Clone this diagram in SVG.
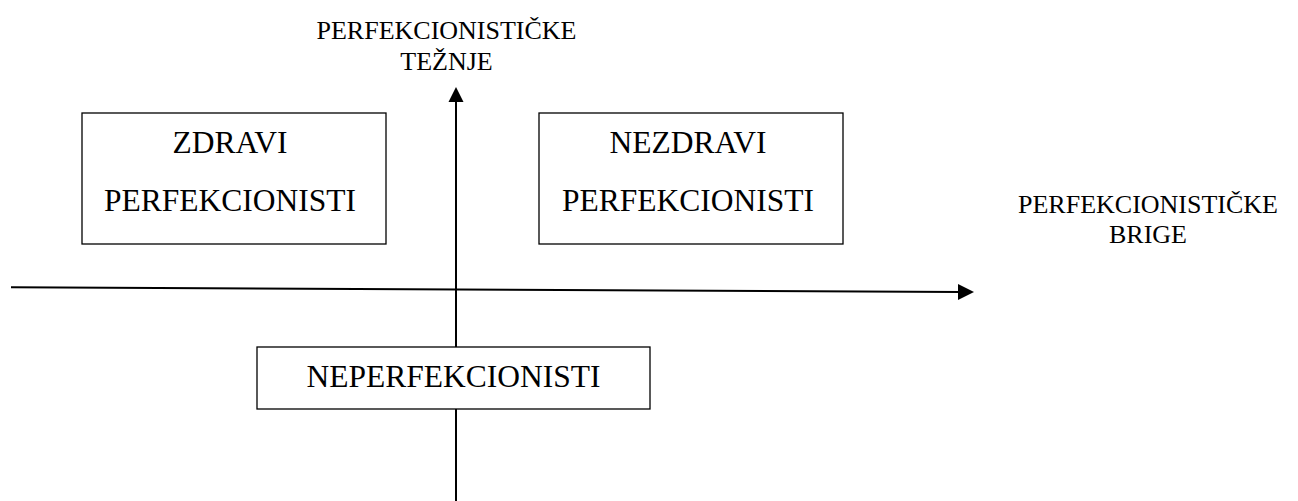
<svg xmlns="http://www.w3.org/2000/svg" width="1298" height="501" viewBox="0 0 1298 501">
  <style>
    .box { fill: #ffffff; stroke: #000000; stroke-width: 1.3; }
    .axis { fill: none; stroke: #000000; stroke-width: 2; }
    .big { font-family: "Liberation Serif", "Times New Roman", serif; font-size: 31.5px; fill: #000000; text-anchor: middle; }
    .lbl { font-family: "Liberation Serif", "Times New Roman", serif; font-size: 26px; fill: #000000; text-anchor: middle; }
  </style>
  <rect width="1298" height="501" fill="#ffffff"/>
  <g id="connectors">
    <line class="axis" x1="456" y1="100" x2="456" y2="501"/>
    <polygon points="456,87 448.5,102 463.5,102" fill="#000000"/>
    <line class="axis" x1="11" y1="287.3" x2="960" y2="292"/>
    <polygon points="974,292 958,284 958,300" fill="#000000"/>
  </g>
  <g id="label-tezenje">
    <text class="lbl" x="446.5" y="39">PERFEKCIONISTIČKE</text>
    <text class="lbl" x="446.5" y="70">TEŽNJE</text>
  </g>
  <g id="label-brige">
    <text class="lbl" x="1148" y="213">PERFEKCIONISTIČKE</text>
    <text class="lbl" x="1148" y="243">BRIGE</text>
  </g>
  <g id="node-zdravi">
    <rect class="box" x="82" y="113" width="304" height="131"/>
    <text class="big" x="230" y="153">ZDRAVI</text>
    <text class="big" x="230" y="211">PERFEKCIONISTI</text>
  </g>
  <g id="node-nezdravi">
    <rect class="box" x="539" y="113" width="304" height="131"/>
    <text class="big" x="688" y="153">NEZDRAVI</text>
    <text class="big" x="688" y="211">PERFEKCIONISTI</text>
  </g>
  <g id="node-neperfekcionisti">
    <rect class="box" x="257" y="347" width="393" height="62"/>
    <text class="big" x="453.5" y="387">NEPERFEKCIONISTI</text>
  </g>
</svg>
